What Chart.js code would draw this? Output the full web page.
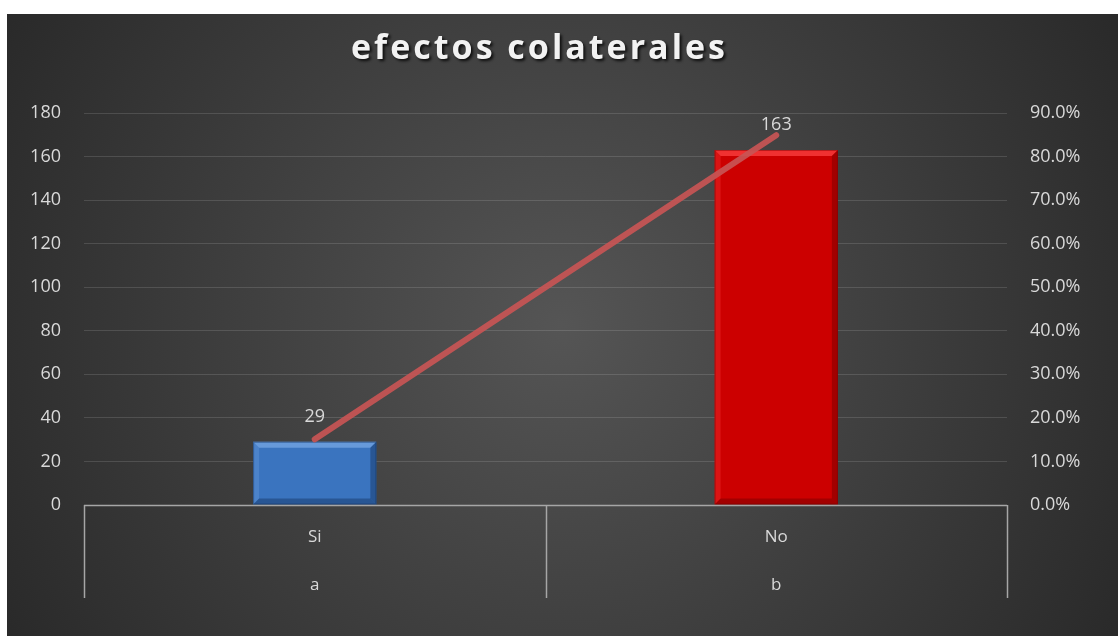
<!DOCTYPE html>
<html>
<head>
<meta charset="utf-8">
<script src="https://cdn.jsdelivr.net/npm/chart.js@4"></script>
<style>
  html, body { margin: 0; padding: 0; background: #fff; }
  #wrap { position: absolute; left: 7px; top: 14px; width: 1111px; height: 622px; }
</style>
</head>
<body>
<div id="wrap"><canvas id="chart"></canvas></div>
<script>
// chart data
const respuestas = ['Si', 'No'];
const grupos = ['a', 'b'];
const frecuencia = [29, 163];
const porcentaje = [0.151, 0.849];
const ticksIzq = [0, 20, 40, 60, 80, 100, 120, 140, 160, 180];
const ticksDer = ['0.0%', '10.0%', '20.0%', '30.0%', '40.0%', '50.0%', '60.0%', '70.0%', '80.0%', '90.0%'];

const FONT = "'Open Sans', sans-serif";
const TXT = '#d9d9d9';
const BARRAS = 1; // index of the bar dataset

// background + title
const fondo = {
  id: 'fondo',
  beforeDraw(chart) {
    const { ctx, width, height } = chart;
    ctx.save();
    const g = ctx.createRadialGradient(width / 2, height / 2, 0, width / 2, height / 2, width * 0.62);
    g.addColorStop(0, '#555555');
    g.addColorStop(1, '#262626');
    ctx.fillStyle = g;
    ctx.fillRect(0, 0, width, height);

    ctx.font = 'bold 34px ' + FONT;
    ctx.letterSpacing = '3px';
    ctx.textAlign = 'center';
    ctx.textBaseline = 'middle';
    ctx.shadowColor = 'rgba(0,0,0,0.8)';
    ctx.shadowOffsetX = 2;
    ctx.shadowOffsetY = 2;
    ctx.shadowBlur = 3;
    ctx.fillStyle = '#f2f2f2';
    ctx.fillText('efectos colaterales', width / 2 - 23, 35);
    ctx.restore();
  }
};

// multi-level category dividers + data labels
const extras = {
  id: 'extras',
  afterDatasetsDraw(chart) {
    const { ctx, chartArea } = chart;
    ctx.save();
    ctx.strokeStyle = '#a6a6a6';
    ctx.lineWidth = 1.5;
    const n = respuestas.length;
    const paso = (chartArea.right - chartArea.left) / n;
    for (let i = 0; i <= n; i++) {
      const px = Math.round(chartArea.left + i * paso) + 0.5;
      ctx.beginPath();
      ctx.moveTo(px, chartArea.bottom);
      ctx.lineTo(px, chartArea.bottom + 93);
      ctx.stroke();
    }
    ctx.beginPath();
    ctx.moveTo(chartArea.left, chartArea.bottom + 0.5);
    ctx.lineTo(chartArea.right, chartArea.bottom + 0.5);
    ctx.stroke();
    ctx.restore();
  },
  afterDraw(chart) {
    const { ctx } = chart;
    const meta = chart.getDatasetMeta(BARRAS);
    ctx.save();
    ctx.font = '18px ' + FONT;
    ctx.fillStyle = TXT;
    ctx.textAlign = 'center';
    ctx.textBaseline = 'middle';
    meta.data.forEach((bar, i) => {
      ctx.fillText(String(frecuencia[i]), bar.x, bar.y - 25);
    });
    ctx.restore();
  }
};

// bevel look for bars
const bisel = {
  id: 'bisel',
  afterDatasetDraw(chart, args) {
    if (args.index !== BARRAS) return;
    const { ctx } = chart;
    const luz = ['rgba(140,185,240,0.55)', 'rgba(255,70,70,0.7)'];
    const sombra = ['rgba(20,50,95,0.45)', 'rgba(110,0,0,0.45)'];
    args.meta.data.forEach((bar, i) => {
      const l = bar.x - bar.width / 2, r = bar.x + bar.width / 2;
      const t = bar.y, b = bar.base, e = 6;
      ctx.save();
      ctx.fillStyle = luz[i];
      ctx.beginPath();
      ctx.moveTo(l, t); ctx.lineTo(r, t); ctx.lineTo(r - e, t + e); ctx.lineTo(l + e, t + e); ctx.closePath();
      ctx.fill();
      ctx.globalAlpha = 0.4;
      ctx.beginPath();
      ctx.moveTo(l, t); ctx.lineTo(l + e, t + e); ctx.lineTo(l + e, b - e); ctx.lineTo(l, b); ctx.closePath();
      ctx.fill();
      ctx.globalAlpha = 1;
      ctx.fillStyle = sombra[i];
      ctx.beginPath();
      ctx.moveTo(l, b); ctx.lineTo(r, b); ctx.lineTo(r - e, b - e); ctx.lineTo(l + e, b - e); ctx.closePath();
      ctx.fill();
      ctx.beginPath();
      ctx.moveTo(r, t); ctx.lineTo(r, b); ctx.lineTo(r - e, b - e); ctx.lineTo(r - e, t + e); ctx.closePath();
      ctx.fill();
      ctx.strokeStyle = sombra[i];
      ctx.lineWidth = 1;
      ctx.strokeRect(l + 0.5, t + 0.5, bar.width - 1, b - t - 1);
      ctx.restore();
    });
  }
};

const ctx = document.getElementById('chart').getContext('2d');
new Chart(ctx, {
  data: {
    labels: respuestas.map((r, i) => [r, grupos[i]]),
    datasets: [
      {
        type: 'line',
        label: 'Porcentaje',
        data: porcentaje,
        yAxisID: 'y1',
        borderColor: 'rgba(200,85,85,0.92)',
        borderWidth: 6,
        borderCapStyle: 'round',
        pointRadius: 0,
        order: 0
      },
      {
        type: 'bar',
        label: 'Frecuencia',
        data: frecuencia,
        yAxisID: 'y',
        backgroundColor: ['#3a74bf', '#cc0000'],
        borderWidth: 0,
        barPercentage: 0.267,
        categoryPercentage: 1,
        order: 1
      }
    ]
  },
  options: {
    responsive: true,
    maintainAspectRatio: false,
    animation: false,
    layout: { padding: { top: 99, left: 0, right: 0, bottom: 0 } },
    plugins: {
      legend: { display: false },
      title: { display: false },
      tooltip: { enabled: false }
    },
    scales: {
      x: {
        grid: { display: false, drawTicks: false },
        border: { display: false },
        ticks: {
          color: TXT,
          font: { family: FONT, size: 17, lineHeight: 48 / 17 },
          padding: 8
        },
        afterFit(s) { s.height = 131; }
      },
      y: {
        position: 'left',
        min: 0,
        max: 180,
        afterBuildTicks(s) { s.ticks = ticksIzq.map(v => ({ value: v })); },
        grid: { color: 'rgba(255,255,255,0.13)', drawTicks: false },
        border: { display: false },
        ticks: {
          color: TXT,
          font: { family: FONT, size: 18 },
          padding: 23
        },
        afterFit(s) { s.width = 77; }
      },
      y1: {
        position: 'right',
        min: 0,
        max: 0.9,
        afterBuildTicks(s) { s.ticks = ticksDer.map((t, i) => ({ value: i * 0.1 })); },
        grid: { display: false, drawTicks: false },
        border: { display: false },
        ticks: {
          color: TXT,
          font: { family: FONT, size: 18 },
          padding: 23,
          callback: (v, i) => ticksDer[i]
        },
        afterFit(s) { s.width = 111; }
      }
    }
  },
  plugins: [fondo, bisel, extras]
});
</script>
</body>
</html>
